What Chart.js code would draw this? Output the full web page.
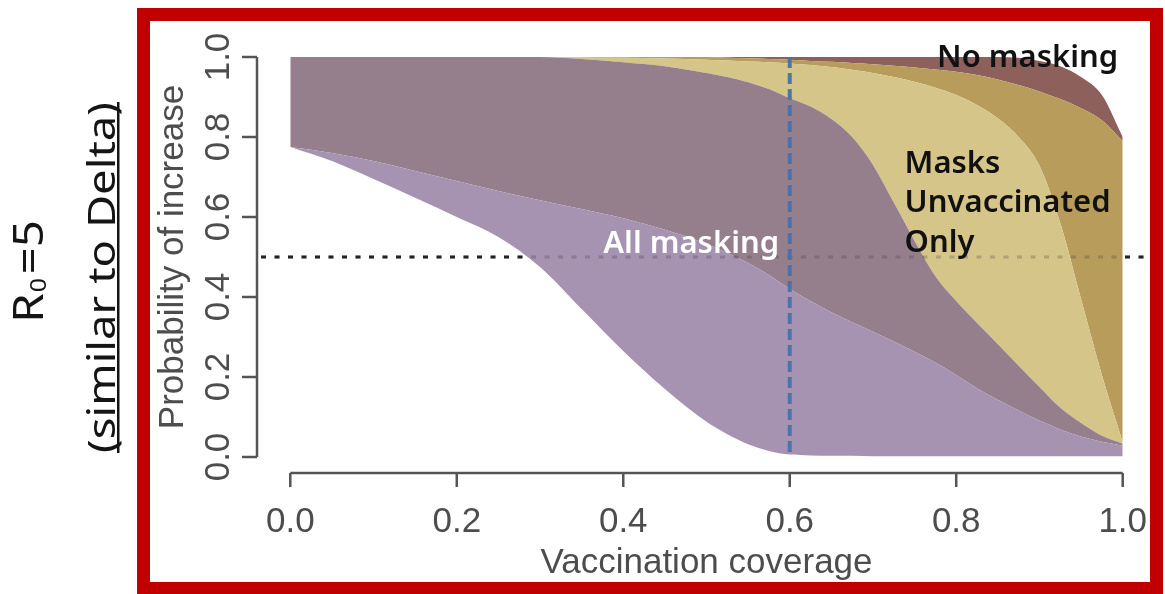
<!DOCTYPE html>
<html>
<head>
<meta charset="utf-8">
<script src="https://cdn.jsdelivr.net/npm/chart.js@4.4.1/dist/chart.umd.min.js"></script>
<style>
  html, body { margin: 0; padding: 0; background: #fff; }
  canvas { display: block; }
</style>
</head>
<body>
<canvas id="c" width="1165" height="594"></canvas>
<script>
// vaccination coverage sample points
const coverage = [0, 0.05, 0.1, 0.15, 0.2, 0.25, 0.3, 0.35, 0.4, 0.45, 0.5,
  0.525, 0.55, 0.575, 0.6, 0.625, 0.65, 0.675, 0.7, 0.725, 0.75,
  0.775, 0.8, 0.825, 0.85, 0.875, 0.9, 0.925, 0.95, 0.975, 1.0];

// band edges, probability of increase
const allMaskLow = [0.775, 0.74, 0.695, 0.648, 0.60, 0.55, 0.475, 0.37, 0.265, 0.17, 0.088,
  0.057, 0.032, 0.015, 0.006, 0.004, 0.003, 0.003, 0.002, 0.002, 0.002,
  0.002, 0.002, 0.002, 0.002, 0.002, 0.002, 0.002, 0.002, 0.002, 0.002];
const maskUnvaxLow = [0.775, 0.76, 0.74, 0.715, 0.69, 0.665, 0.642, 0.62, 0.597, 0.568, 0.533,
  0.51, 0.485, 0.455, 0.42, 0.39, 0.362, 0.337, 0.313, 0.289, 0.263,
  0.236, 0.205, 0.172, 0.143, 0.116, 0.091, 0.069, 0.051, 0.038, 0.028];
const allMaskHigh = [1, 1, 1, 1, 1, 1, 1, 0.995, 0.987, 0.977, 0.96,
  0.95, 0.937, 0.92, 0.897, 0.876, 0.845, 0.80, 0.73, 0.636, 0.54,
  0.452, 0.39, 0.335, 0.282, 0.228, 0.175, 0.123, 0.085, 0.053, 0.033];
const noMaskLow = [1, 1, 1, 1, 1, 1, 1, 0.999, 0.998, 0.996, 0.993,
  0.991, 0.989, 0.987, 0.984, 0.98, 0.975, 0.968, 0.96, 0.95, 0.938,
  0.923, 0.905, 0.88, 0.847, 0.80, 0.728, 0.585, 0.395, 0.205, 0.037];
const maskUnvaxHigh = [1, 1, 1, 1, 1, 1, 1, 1, 1, 1, 1,
  0.998, 0.997, 0.995, 0.993, 0.99, 0.988, 0.985, 0.982, 0.978, 0.974,
  0.969, 0.963, 0.955, 0.944, 0.93, 0.914, 0.895, 0.872, 0.842, 0.79];
const noMaskHigh = [1, 1, 1, 1, 1, 1, 1, 1, 1, 1, 1,
  1, 1, 1, 1, 1, 1, 1, 1, 1, 1,
  1, 1, 1, 1, 0.998, 0.99, 0.977, 0.95, 0.905, 0.80];

const tickValues = [0, 0.2, 0.4, 0.6, 0.8, 1.0];
const tickLabels = ['0.0', '0.2', '0.4', '0.6', '0.8', '1.0'];
const threshold = 0.5;
const currentCoverage = 0.6;

const pts = (ys) => coverage.map((x, i) => ({ x, y: ys[i] }));

// each edge fills down to the previous one
const layer = (label, ys, color) => ({
  label, data: pts(ys), fill: color ? '-1' : false, backgroundColor: color,
  borderWidth: 0, pointRadius: 0, cubicInterpolationMode: 'monotone'
});

const AXIS_FONT = '35px "Liberation Sans", Arial, sans-serif';
const AXIS_COL = '#4d4d4d';
const NOTE_FONT = '600 31px "Noto Sans", sans-serif';

function rotText(ctx, text, x, y, fitLen) {
  ctx.save();
  ctx.translate(x, y);
  ctx.rotate(-Math.PI / 2);
  if (fitLen) ctx.scale(fitLen / ctx.measureText(text).width, 1);
  ctx.fillText(text, 0, 0);
  ctx.restore();
}

function dashedThreshold(ctx, a, y, color) {
  ctx.strokeStyle = color;
  ctx.lineWidth = 3;
  ctx.setLineDash([5, 8.5]);
  ctx.beginPath();
  ctx.moveTo(a.left + 4, y.getPixelForValue(threshold));
  ctx.lineTo(a.right, y.getPixelForValue(threshold));
  ctx.stroke();
}

const decor = {
  id: 'decor',
  beforeDraw(chart) {
    const { ctx } = chart;
    ctx.save();
    ctx.fillStyle = '#fff';
    ctx.fillRect(0, 0, chart.width, chart.height);
    ctx.restore();
  },
  beforeDatasetsDraw(chart) {
    const { ctx, chartArea: a, scales: { y } } = chart;
    ctx.save();
    dashedThreshold(ctx, a, y, '#222');
    ctx.restore();
  },
  afterDatasetsDraw(chart) {
    const { ctx, chartArea: a, scales: { x, y } } = chart;
    ctx.save();
    // threshold line shows faintly through the bands
    dashedThreshold(ctx, a, y, 'rgba(40,40,40,0.22)');
    // current coverage
    ctx.strokeStyle = 'rgba(74,112,168,0.95)';
    ctx.lineWidth = 4;
    ctx.setLineDash([11, 5]);
    ctx.beginPath();
    ctx.moveTo(x.getPixelForValue(currentCoverage), y.getPixelForValue(1));
    ctx.lineTo(x.getPixelForValue(currentCoverage), y.getPixelForValue(0));
    ctx.stroke();
    ctx.setLineDash([]);

    ctx.font = NOTE_FONT;
    ctx.textAlign = 'left';
    ctx.textBaseline = 'alphabetic';
    ctx.fillStyle = '#fff';
    ctx.fillText('All masking', x.getPixelForValue(0.376), y.getPixelForValue(0.51));
    ctx.fillStyle = '#111';
    ctx.fillText('No masking', x.getPixelForValue(0.777), y.getPixelForValue(0.975));
    ['Masks', 'Unvaccinated', 'Only'].forEach((t, i) => {
      ctx.fillText(t, x.getPixelForValue(0.738), y.getPixelForValue(0.71 - i * 0.0985));
    });
    ctx.restore();
  },
  afterDraw(chart) {
    const { ctx, chartArea: a, scales: { x, y } } = chart;
    ctx.save();
    // R style axes
    ctx.strokeStyle = '#555';
    ctx.lineWidth = 2.5;
    ctx.beginPath();
    ctx.moveTo(a.left, y.getPixelForValue(0));
    ctx.lineTo(a.left, y.getPixelForValue(1));
    ctx.moveTo(x.getPixelForValue(0), a.bottom);
    ctx.lineTo(x.getPixelForValue(1), a.bottom);
    tickValues.forEach(v => {
      ctx.moveTo(a.left - 15, y.getPixelForValue(v));
      ctx.lineTo(a.left, y.getPixelForValue(v));
      ctx.moveTo(x.getPixelForValue(v), a.bottom);
      ctx.lineTo(x.getPixelForValue(v), a.bottom + 14);
    });
    ctx.stroke();

    ctx.fillStyle = AXIS_COL;
    ctx.font = AXIS_FONT;
    ctx.textAlign = 'center';
    ctx.textBaseline = 'alphabetic';
    tickValues.forEach((v, i) => {
      ctx.fillText(tickLabels[i], x.getPixelForValue(v), 532);
      rotText(ctx, tickLabels[i], 229, y.getPixelForValue(v));
    });
    ctx.fillText('Vaccination coverage', (x.getPixelForValue(0) + x.getPixelForValue(1)) / 2, 573);
    rotText(ctx, 'Probability of increase', 183, (y.getPixelForValue(0) + y.getPixelForValue(1)) / 2);

    // red frame
    ctx.strokeStyle = '#c00000';
    ctx.lineWidth = 13;
    ctx.strokeRect(143.5, 14.5, 1013, 574);

    // side title
    ctx.fillStyle = '#151515';
    ctx.font = '39px "Noto Sans", sans-serif';
    rotText(ctx, '(similar to Delta)', 115, 277.5, 351);
    ctx.fillRect(117, 102, 2.5, 351);

    ctx.save();
    ctx.translate(43, 271.5);
    ctx.rotate(-Math.PI / 2);
    ctx.textAlign = 'left';
    const big = '42px "Noto Sans", sans-serif', small = '22px "Noto Sans", sans-serif';
    ctx.font = big; const wR = ctx.measureText('R').width, wEq = ctx.measureText('=5').width;
    ctx.font = small; const w0 = ctx.measureText('0').width + 4;
    const s = 103 / (wR + w0 + wEq);
    ctx.scale(s, 1);
    const x0 = -(wR + w0 + wEq) / 2;
    ctx.font = big; ctx.fillText('R', x0, 0);
    ctx.font = small; ctx.fillText('0', x0 + wR + 1, 3);
    ctx.font = big; ctx.fillText('=5', x0 + wR + w0, 0);
    ctx.restore();

    ctx.restore();
  }
};

new Chart(document.getElementById('c'), {
  type: 'line',
  data: {
    datasets: [
      layer('All masking low', allMaskLow, null),
      layer('Masks unvaccinated low', maskUnvaxLow, '#a693b1'),
      layer('All masking high', allMaskHigh, '#967f8c'),
      layer('No masking low', noMaskLow, '#d5c588'),
      layer('Masks unvaccinated high', maskUnvaxHigh, '#b89c5b'),
      layer('No masking high', noMaskHigh, '#8e605c')
    ]
  },
  options: {
    responsive: false,
    animation: false,
    devicePixelRatio: 1,
    layout: { padding: { left: 257, top: 41, right: 9, bottom: 121 } },
    scales: {
      x: { type: 'linear', min: -0.04, max: 1.04, display: false },
      y: { type: 'linear', min: -0.04, max: 1.04, display: false }
    },
    plugins: { legend: { display: false }, tooltip: { enabled: false } }
  },
  plugins: [decor]
});
</script>
</body>
</html>
